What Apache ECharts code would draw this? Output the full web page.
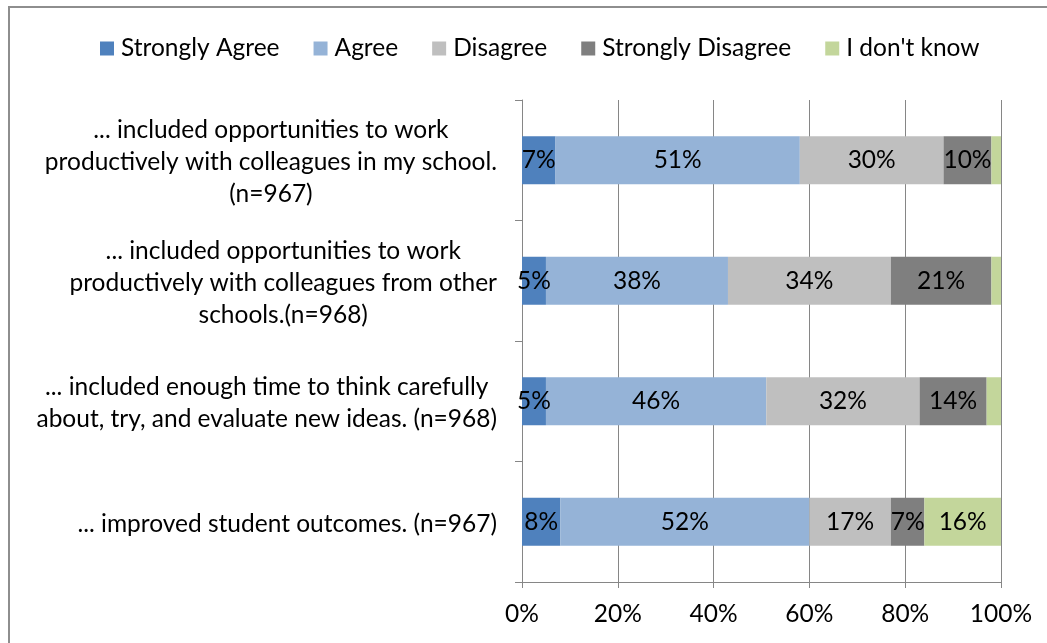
<!DOCTYPE html>
<html>
<head>
<meta charset="utf-8">
<title>Professional development ratings</title>
<script src="https://cdn.jsdelivr.net/npm/echarts@6/dist/echarts.min.js"></script>
<style>
  html, body { margin: 0; padding: 0; background: #ffffff; }
  #chart { width: 1047px; height: 643px; }
</style>
</head>
<body>
<div id="chart"></div>
<script>
// Survey statements (top to bottom)
const categories = [
  '... included opportunities to work\nproductively with colleagues in my school.\n(n=967)',
  '... included opportunities to work\nproductively with colleagues from other\nschools.(n=968)',
  '... included enough time to think carefully\nabout, try, and evaluate new ideas. (n=968)',
  '... improved student outcomes. (n=967)'
];

// Response shares, percent
const stronglyAgree    = [7, 5, 5, 8];
const agree            = [51, 38, 46, 52];
const disagree         = [30, 34, 32, 17];
const stronglyDisagree = [10, 21, 14, 7];
const dontKnow         = [2, 2, 3, 16];

const seriesNames = ['Strongly Agree', 'Agree', 'Disagree', 'Strongly Disagree', "I don't know"];
const seriesData = [stronglyAgree, agree, disagree, stronglyDisagree, dontKnow];
const colors = ['#4F81BD', '#95B3D7', '#BFBFBF', '#7F7F7F', '#C3D69B'];

const xTicks = [0, 20, 40, 60, 80, 100];

const FONT = 'Lato, Carlito, Calibri, "Open Sans", sans-serif';
const FS = 24.5;

const chart = echarts.init(document.getElementById('chart'), null, { renderer: 'canvas' });

chart.setOption({
  animation: false,
  backgroundColor: '#ffffff',
  color: colors,
  textStyle: { fontFamily: FONT, color: '#000' },
  graphic: [{
    type: 'rect',
    shape: { x: 9, y: 7, width: 1200, height: 800 },
    style: { fill: 'none', stroke: '#8e8e8e', lineWidth: 2 },
    silent: true,
    z: 100
  }],
  legend: {
    top: 31,
    left: 95,
    itemWidth: 14,
    itemHeight: 14,
    itemGap: 34,
    icon: 'rect',
    textStyle: { fontFamily: FONT, fontSize: FS, lineHeight: 24, color: '#000', padding: [0, 0, 0, 2] },
    data: seriesNames
  },
  grid: { left: 522, right: 46, top: 100, bottom: 61 },
  xAxis: {
    type: 'value',
    min: xTicks[0],
    max: xTicks[xTicks.length - 1],
    interval: 20,
    axisLine: { show: true, lineStyle: { color: '#868686', width: 1 } },
    axisTick: { show: true, length: 6, lineStyle: { color: '#868686' } },
    splitLine: { show: true, lineStyle: { color: '#868686', width: 1 } },
    axisLabel: {
      fontFamily: FONT, fontSize: FS, color: '#000', margin: 20,
      formatter: v => v + '%'
    }
  },
  yAxis: {
    type: 'category',
    inverse: true,
    data: categories,
    axisLine: { show: true, lineStyle: { color: '#868686', width: 1 } },
    axisTick: { show: true, length: 7, lineStyle: { color: '#868686' } },
    axisLabel: {
      margin: 25,
      align: 'right',
      padding: [4, 0, 0, 0],
      fontFamily: FONT,
      fontSize: FS,
      color: '#000',
      formatter: v => v.split('\n').map(line => '{c|' + line + '}').join('\n'),
      rich: {
        c: { align: 'center', fontFamily: FONT, fontSize: FS, lineHeight: 32, color: '#000' }
      }
    }
  },
  series: seriesNames.map((name, i) => ({
    name: name,
    type: 'bar',
    stack: 'total',
    barWidth: 48,
    data: seriesData[i],
    itemStyle: { color: colors[i] },
    label: {
      show: true,
      position: 'inside',
      fontFamily: FONT,
      fontSize: FS,
      color: '#000',
      formatter: p => (p.value < 4 ? '' : p.value + '%')
    },
    emphasis: { disabled: true }
  }))
});
</script>
</body>
</html>
